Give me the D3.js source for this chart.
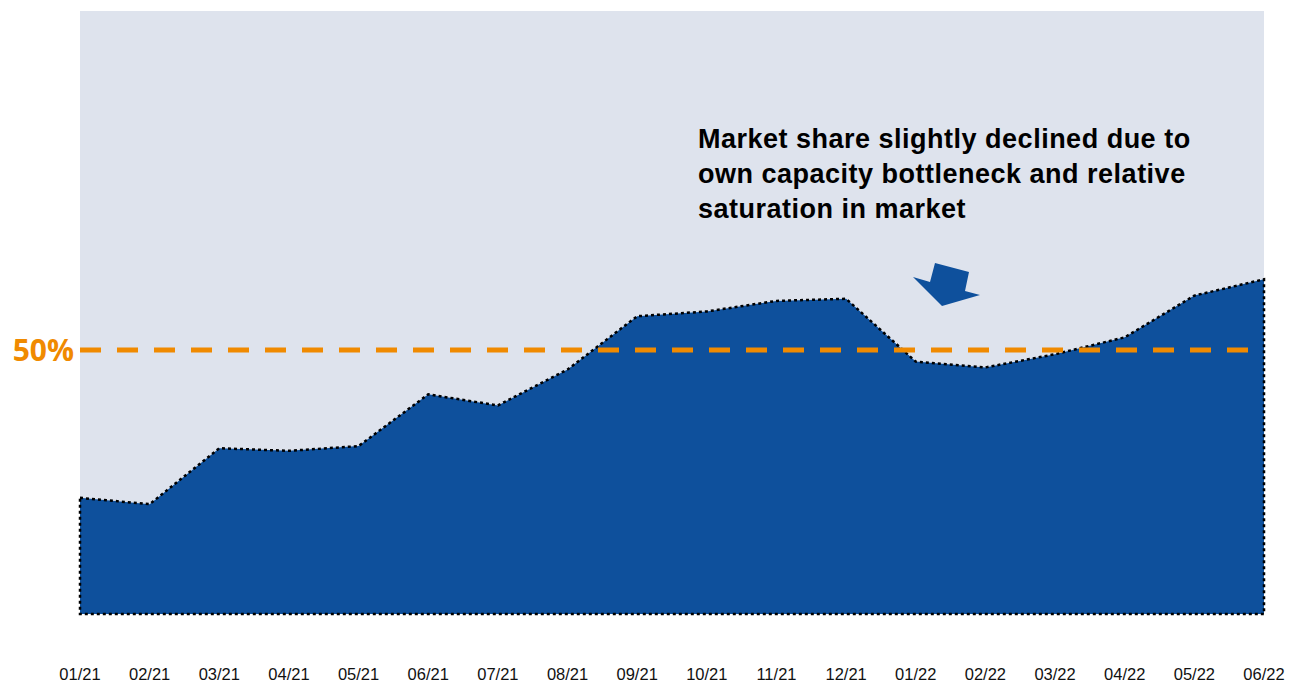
<!DOCTYPE html>
<html>
<head>
<meta charset="utf-8">
<script src="https://cdn.jsdelivr.net/npm/d3@7"></script>
<style>
  body { margin: 0; background: #fff; }
  svg { display: block; }
</style>
</head>
<body>
<svg id="chart"></svg>
<script>
const width = 1291;
const height = 683;

// months on the x axis
const months = ["01/21", "02/21", "03/21", "04/21", "05/21", "06/21", "07/21", "08/21", "09/21",
  "10/21", "11/21", "12/21", "01/22", "02/22", "03/22", "04/22", "05/22", "06/22"];
// market share, %
const share = [22.0, 20.8, 31.4, 30.9, 31.8, 41.6, 39.5, 46.3, 56.4,
  57.3, 59.3, 59.7, 47.8, 46.7, 49.2, 52.4, 60.3, 63.4];
const refValue = 50;
const refLabel = "50%";
const noteLines = ["Market share slightly declined due to",
  "own capacity bottleneck and relative",
  "saturation in market"];

const svg = d3.select("#chart")
    .attr("width", width)
    .attr("height", height);

const plotLeft = 80, plotRight = 1264, plotTop = 11, plotBottom = 614;

const x = d3.scalePoint()
    .domain(months)
    .range([plotLeft, plotRight]);

const y = d3.scaleLinear()
    .domain([0, 100])
    .range([plotBottom, 86]);

// plot background
svg.append("rect")
    .attr("x", plotLeft)
    .attr("y", plotTop)
    .attr("width", plotRight - plotLeft)
    .attr("height", plotBottom - plotTop)
    .attr("fill", "#dee3ed");

const data = months.map((m, i) => ({ m, v: share[i] }));

const area = d3.area()
    .x(d => x(d.m))
    .y0(y(0))
    .y1(d => y(d.v));

svg.append("path")
    .datum(data)
    .attr("d", d => area(d) + "Z")
    .attr("fill", "#0e509c")
    .attr("stroke", "#000")
    .attr("stroke-width", 2.5)
    .attr("stroke-dasharray", "3,3");

// 50% reference line
svg.append("line")
    .attr("x1", plotLeft)
    .attr("x2", plotRight)
    .attr("y1", y(refValue))
    .attr("y2", y(refValue))
    .attr("stroke", "#f08a00")
    .attr("stroke-width", 5)
    .attr("stroke-dasharray", "21,16");

svg.append("text")
    .attr("x", 74)
    .attr("y", y(refValue) + 11)
    .attr("text-anchor", "end")
    .attr("font-family", "'Open Sans', sans-serif")
    .attr("font-weight", "bold")
    .attr("font-size", 30)
    .attr("fill", "#f08a00")
    .text(refLabel);

// x labels
svg.append("g")
  .selectAll("text")
  .data(months)
  .join("text")
    .attr("x", d => x(d))
    .attr("y", 680)
    .attr("text-anchor", "middle")
    .attr("font-family", "Arial, 'Liberation Sans', sans-serif")
    .attr("font-size", 16.5)
    .attr("fill", "#111")
    .text(d => d);

// annotation
svg.append("text")
    .attr("font-family", "Arial, 'Liberation Sans', sans-serif")
    .attr("font-weight", "bold")
    .attr("font-size", 27)
    .attr("letter-spacing", 0.5)
    .attr("fill", "#000")
  .selectAll("tspan")
  .data(noteLines)
  .join("tspan")
    .attr("x", 698)
    .attr("y", (d, i) => 148 + i * 35)
    .text(d => d);

// arrow
svg.append("path")
    .attr("d", "M935,263 L969,272 L965,291 L980,295 L942,306 L913,277 L930,282 Z")
    .attr("fill", "#0e509c");
</script>
</body>
</html>
